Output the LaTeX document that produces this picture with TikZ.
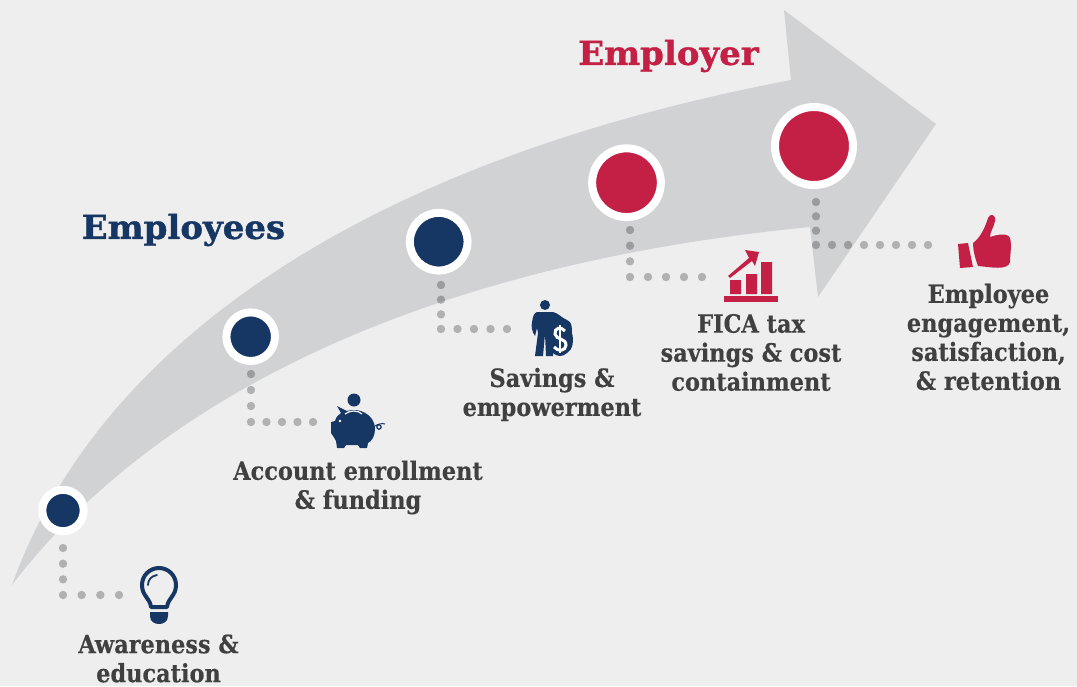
\documentclass[tikz,border=0pt]{standalone}
\usepackage{fontspec}
\setmainfont{DejaVu Serif}[FakeStretch=0.88]
\newfontfamily\labfont{DejaVu Serif Bold}[FakeStretch=0.89,FakeBold=0.3]
\newfontfamily\headfont{DejaVu Serif Bold}[FakeStretch=1.03,FakeBold=1.2]
\definecolor{bgc}{HTML}{EEEEEE}
\definecolor{arrowc}{HTML}{D1D2D4}
\definecolor{navy}{HTML}{163763}
\definecolor{crimson}{HTML}{C41F45}
\definecolor{txt}{HTML}{404040}
\tikzset{
  dotline/.style={draw=black,draw opacity=.256,line width=8.4pt,line cap=round},
  marker/.style={circle,draw=white,line width=8pt,inner sep=0pt,outer sep=0pt},
  lab/.style={text=txt,font=\labfont\fontsize{25.2}{29}\selectfont,align=center,inner sep=0pt},
  head/.style={font=\headfont\fontsize{33}{36}\selectfont,inner sep=0pt}
}
\begin{document}
\begin{tikzpicture}[x=1pt,y=-1pt]
\useasboundingbox (0,0) rectangle (1077,686);
\fill[bgc] (0,0) rectangle (1077,686);
% big arrow
\fill[arrowc] (12,585) .. controls (100,340) and (370,160) .. (791,80) -- (784,10) -- (936,124) -- (818,297) -- (810,227)
  .. controls (370,270) and (130,430) .. (12,585) -- cycle;
% headings
\node[head,text=navy] (hemp) at (183.5,230) {Employees};
\node[head,text=crimson] (hbos) at (668.5,56) {Employer};
% connector ends
\coordinate (a1) at (63,548); \coordinate (b1) at (63,595); \coordinate (e1) at (119,595);
\coordinate (a2) at (251,374); \coordinate (b2) at (251,422); \coordinate (e2) at (313,422);
\coordinate (a3) at (441,285); \coordinate (b3) at (441,329); \coordinate (e3) at (507,329);
\coordinate (a4) at (630,230); \coordinate (b4) at (630,277); \coordinate (e4) at (702,277);
\coordinate (a5) at (816,202); \coordinate (b5) at (816,245); \coordinate (e5) at (928,245);
\foreach \n/\sv/\sh in {1/15.67/18.67,2/16/15.5,3/14.67/16.5,4/15.67/18,5/14.33/16}{
  \draw[dotline,dash pattern=on 0pt off \sv pt] (a\n) -- ([yshift=-1pt]b\n);
  \draw[dotline,dash pattern=on 0pt off \sh pt] ([xshift=\sh pt]b\n) -- ([xshift=1pt]e\n);
}
% markers
\node[marker,fill=navy,minimum size=41.4pt] (c1) at (63,510.5) {};
\node[marker,fill=navy,minimum size=48.6pt] (c2) at (250.7,336.7) {};
\node[marker,fill=navy,minimum size=57.7pt] (c3) at (438.7,241.7) {};
\node[marker,fill=crimson,minimum size=68.7pt] (c4) at (626.5,182.7) {};
\node[marker,fill=crimson,minimum size=78pt] (c5) at (814,146) {};
% bulb
\draw[navy,line width=4pt,line join=round] (151,607) .. controls (150,598) and (142,596) .. (142,585)
  .. controls (142,575.6) and (149.6,568) .. (159,568) .. controls (168.4,568) and (176,575.6) .. (176,585)
  .. controls (176,596) and (168,598) .. (167,607) -- cycle;
\draw[navy,line width=1.8pt,line cap=round] (148,585) .. controls (148,580) and (151,576) .. (157,575);
\fill[navy] (150,612) -- (168,612) -- (168,616) .. controls (168,622) and (163,624) .. (159,624) .. controls (155,624) and (150,622) .. (150,616) -- cycle;
% piggy
\fill[navy] (354,400) circle[radius=6.5];
\fill[navy] (337,406) -- (347,411) .. controls (358,407) and (375,414) .. (375,429)
  .. controls (375,436) and (372,441) .. (368,443) -- (367,448) -- (360,448) -- (358,445) -- (346,445) -- (344,448) -- (343,448) -- (337,448) -- (336,441)
  .. controls (334,438) and (333,435) .. (331,433) -- (331,422) -- (335,421) .. controls (336,417) and (338,415) .. (341,413) -- cycle;
\draw[white,line width=1.2pt] (345,414) .. controls (350,410) and (358,410) .. (362,414);
\fill[white] (340,421) circle[radius=1.3];
\draw[navy,line width=1pt] (375,426) .. controls (378,424) and (382,423) .. (385,424);
\draw[navy,line width=1.2pt] (379,427) circle[radius=2.2];
% person
\fill[navy] (545,305) circle[radius=5];
\fill[navy] (537,312) -- (553,312) .. controls (558,313) and (562,318) .. (567,320)
  .. controls (572,322) and (572,327) .. (572,333) .. controls (574,340) and (573,350) .. (567,353)
  .. controls (563,357) and (557,357) .. (553,353) -- (553,356) -- (546,356) -- (545,334) -- (543,356) -- (535,356) -- (538,333) -- (537,328) -- (535,336) .. controls (532,332) and (531,326) .. (532,322) .. controls (533,316) and (534,313) .. (537,312) -- cycle;
\draw[white,line width=3pt] (565,331) .. controls (561,326) and (554,328) .. (555,334) .. controls (556,340) and (566,338) .. (566,345) .. controls (566,351) and (558,352) .. (554,347);
\draw[white,line width=2pt] (560,325) -- (560,353);
% chart
\fill[crimson] (724,296) rectangle (778,302);
\fill[crimson] (730,280) rectangle (741,294) (746,274) rectangle (757,294) (761,262) rectangle (772,294);
\fill[crimson] (728,276) -- (749,258) -- (745,250) -- (759,252) -- (755,266) -- (752,261) -- (730,278) -- cycle;
% thumb
\fill[crimson] (958,244) -- (968,243) -- (973,267) -- (960,268) -- cycle;
\fill[crimson] (973,243) .. controls (980,238) and (985,228) .. (988,218) .. controls (990,213) and (996,214) .. (995,221)
  .. controls (994,227) and (990,232) .. (990,237) .. controls (996,235) and (1007,232) .. (1010,238) .. controls (1012,245) and (1010,255) .. (1010,262)
  .. controls (1008,271) and (990,267) .. (978,266) .. controls (975,258) and (973,250) .. (973,243) -- cycle;
% labels
\node[lab] (t1) at (158.5,658.5) {Awareness \&\\education};
\node[lab] (t2) at (358,487.5) {Account enrollment\\\& funding};
\node[lab] (t3) at (552,394.5) {Savings \&\\empowerment};
\node[lab] (t4) at (751,352.5) {FICA tax\\savings \& cost\\containment};
\node[lab] (t5) at (988.5,337) {Employee\\engagement,\\satisfaction,\\\& retention};
\end{tikzpicture}
\end{document}
